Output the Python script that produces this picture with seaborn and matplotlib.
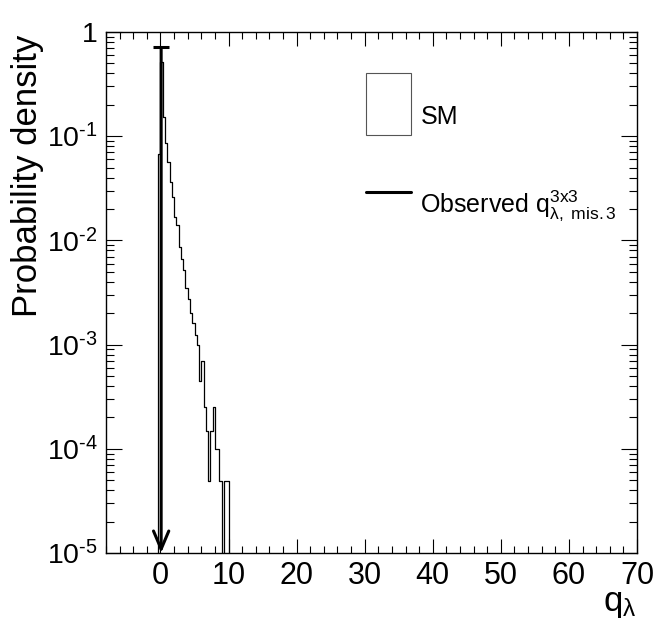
import numpy as np
import pandas as pd
import matplotlib
matplotlib.use("Agg")
import matplotlib.pyplot as plt
import seaborn as sns
from matplotlib.patches import Patch
from matplotlib.lines import Line2D
from matplotlib.ticker import FixedLocator, FixedFormatter, MultipleLocator, LogLocator, NullFormatter

# ── data ──────────────────────────────────────────────────────────
# SM toy distribution of q_lambda, fraction of toys per bin (bins of 1/3)
bin_width  = 1 / 3
first_edge = -1 / 3
sm_density = [0.067, 0.519, 0.154, 0.0861, 0.0569, 0.0366, 0.0259, 0.0169,
              0.0141, 0.0087, 0.00659, 0.0052, 0.00347, 0.00272, 0.0020,
              0.0016, 0.00124, 0.00099, 0.000444, 0.00070, 0.00025,
              0.000149, 4.9e-5, 0.000149, 0.00025, 9.9e-5, 9.9e-5,
              4.9e-5, 0.0, 4.9e-5, 4.9e-5]

obs_q   = 0.1      # observed value of q_lambda
obs_top = 0.71     # height where the observed marker starts

x_range = (-8, 70)
y_range = (1e-5, 1)
xtick_vals   = [0, 10, 20, 30, 40, 50, 60, 70]
xtick_labels = ["0", "10", "20", "30", "40", "50", "60", "70"]
ytick_vals   = [1e-5, 1e-4, 1e-3, 1e-2, 1e-1, 1]
ytick_labels = [r"$\mathregular{10^{\text{-}5}}$", r"$\mathregular{10^{\text{-}4}}$",
                r"$\mathregular{10^{\text{-}3}}$", r"$\mathregular{10^{\text{-}2}}$",
                r"$\mathregular{10^{\text{-}1}}$", "1"]

# ── style ─────────────────────────────────────────────────────────
sns.set_style("ticks")
plt.rcParams["font.family"] = ["Liberation Sans", "DejaVu Sans"]
plt.rcParams["mathtext.fontset"] = "custom"
plt.rcParams["mathtext.rm"] = "Liberation Sans"
plt.rcParams["mathtext.it"] = "Liberation Sans"
plt.rcParams["mathtext.bf"] = "Liberation Sans:bold"
plt.rcParams["text.color"] = "black"
plt.rcParams["axes.labelcolor"] = "black"

fig, ax = plt.subplots(figsize=(6.64, 6.37), dpi=100)
fig.patch.set_facecolor("white")
fig.subplots_adjust(left=106 / 664, right=637 / 664,
                    bottom=1 - 553 / 637, top=1 - 32 / 637)

# pad with an empty bin on each side so the outline drops to the floor
heights = [0.0] + sm_density + [0.0]
edges   = [first_edge + bin_width * k for k in range(-1, len(heights))]
centers = [e + bin_width / 2 for e in edges[:-1]]
df = pd.DataFrame({"q": centers, "w": heights})

ax.set_yscale("log")
sns.histplot(data=df, x="q", weights="w", bins=edges, element="step",
             fill=False, color="black", linewidth=0.9, ax=ax)

# ── observed value: arrow down to the floor with a cap on top ────
ax.annotate("", xy=(obs_q, y_range[0]), xytext=(obs_q, obs_top),
            arrowprops=dict(arrowstyle="->,head_length=1.3,head_width=0.55",
                            lw=2.2, color="black", shrinkA=0, shrinkB=0,
                            mutation_scale=10))
ax.plot([obs_q - 1.2, obs_q + 1.2], [obs_top, obs_top],
        color="black", lw=2.2, solid_capstyle="butt")

ax.set_xlim(*x_range)
ax.set_ylim(*y_range)

# ── axes / ticks ──────────────────────────────────────────────────
ax.xaxis.set_major_locator(FixedLocator(xtick_vals))
ax.xaxis.set_major_formatter(FixedFormatter(xtick_labels))
ax.xaxis.set_minor_locator(MultipleLocator(2))
ax.yaxis.set_major_locator(FixedLocator(ytick_vals))
ax.yaxis.set_major_formatter(FixedFormatter(ytick_labels))
ax.yaxis.set_minor_locator(LogLocator(base=10, subs=np.arange(2, 10)))
ax.yaxis.set_minor_formatter(NullFormatter())

ax.tick_params(which="both", direction="in", top=True, right=True,
               width=0.8, colors="black")
ax.tick_params(axis="x", which="major", length=10, pad=6, labelsize=22)
ax.tick_params(axis="x", which="minor", length=5)
ax.tick_params(axis="y", which="major", length=11.5, pad=6, labelsize=20.5)
ax.tick_params(axis="y", which="minor", length=6)
for sp in ax.spines.values():
    sp.set_visible(True)
    sp.set_linewidth(1.0)
    sp.set_color("black")

ax.set_xlabel(r"$\mathregular{q_{λ}}$", fontsize=25, loc="right")
ax.xaxis.set_label_coords(1.0, -0.066)
ax.set_ylabel("Probability density", fontsize=25, loc="top")
ax.yaxis.set_label_coords(-0.117, 0.994)

# ── legend ────────────────────────────────────────────────────────
handles = [Patch(facecolor="white", edgecolor="#555555", linewidth=0.8),
           Line2D([], [], color="black", lw=2.2)]
labels = ["SM", r"Observed $\mathregular{q^{3x3}_{λ,\ mis.3}}$"]
leg = ax.legend(handles, labels, loc="upper left", bbox_to_anchor=(0.49, 0.922),
                frameon=False, fontsize=18, borderpad=0, borderaxespad=0,
                handlelength=1.8, handleheight=3.44, handletextpad=0.37,
                labelspacing=1.06)
# ROOT sets the labels near the bottom of each entry box
for t in leg.get_texts():
    t.set_y(-13)
obs_handle = leg.legend_handles[1]
obs_handle.set_ydata(np.asarray(obs_handle.get_ydata()) - 8.6)

fig.savefig("out.png", dpi=100, facecolor="white")
plt.close(fig)
